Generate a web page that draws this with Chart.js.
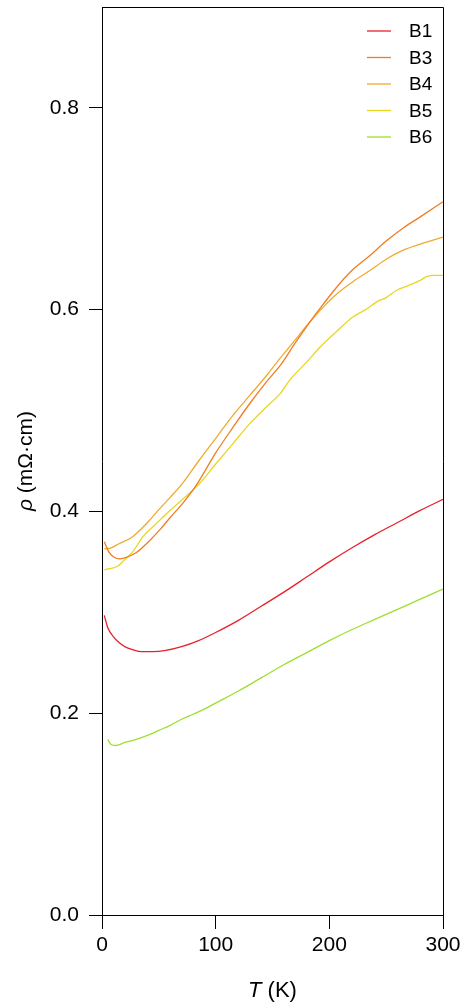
<!DOCTYPE html>
<html>
<head>
<meta charset="utf-8">
<script src="https://cdn.jsdelivr.net/npm/chart.js@4.4.1/dist/chart.umd.min.js"></script>
<style>
  html, body { margin: 0; padding: 0; background: #fff; }
  #wrap { width: 473px; height: 1006px; }
</style>
</head>
<body>
<div id="wrap"><canvas id="rhoChart" width="473" height="1006"></canvas></div>
<script>
// Series data: temperature (K) and resistivity (mOhm cm)
const seriesNames = ['B1', 'B3', 'B4', 'B5', 'B6'];
const seriesColors = ['#e8202a', '#f07d23', '#efaa2e', '#e9d71e', '#9ddf2f'];

const tB1 = [2, 5, 10, 15, 20, 27, 35, 45, 55, 70, 85, 100, 120, 140, 160, 180, 200, 220, 240, 260, 280, 300];
const rhoB1 = [0.297, 0.285, 0.276, 0.270, 0.266, 0.263, 0.261, 0.261, 0.262, 0.266, 0.272, 0.280, 0.292, 0.306, 0.320, 0.335, 0.350, 0.364, 0.377, 0.389, 0.401, 0.412];

const tB3 = [2, 6, 10, 15, 20, 30, 40, 51, 60, 71, 83, 100, 115, 130, 145, 157, 170, 183, 195, 207, 220, 236, 250, 265, 280, 300];
const rhoB3 = [0.370, 0.360, 0.355, 0.353, 0.354, 0.359, 0.369, 0.382, 0.394, 0.408, 0.426, 0.458, 0.483, 0.507, 0.529, 0.545, 0.567, 0.588, 0.606, 0.623, 0.639, 0.654, 0.668, 0.681, 0.692, 0.707];

const tB4 = [2, 8, 15, 27, 40, 51, 60, 71, 85, 101, 115, 130, 145, 154, 170, 183, 195, 207, 221, 236, 250, 265, 280, 300];
const rhoB4 = [0.363, 0.364, 0.368, 0.375, 0.389, 0.403, 0.414, 0.428, 0.450, 0.474, 0.495, 0.515, 0.535, 0.548, 0.570, 0.588, 0.603, 0.616, 0.628, 0.639, 0.650, 0.659, 0.665, 0.672];

const tB5 = [2, 5, 10, 14, 18, 27, 36, 45, 57, 70, 86, 100, 115, 130, 145, 157, 165, 180, 192, 205, 221, 232, 242, 250, 259, 270, 280, 286, 292, 300];
const rhoB5 = [0.342, 0.343, 0.344, 0.346, 0.350, 0.360, 0.375, 0.385, 0.398, 0.411, 0.428, 0.447, 0.467, 0.487, 0.504, 0.517, 0.530, 0.548, 0.563, 0.577, 0.593, 0.600, 0.608, 0.612, 0.619, 0.624, 0.629, 0.633, 0.634, 0.634];

const tB6 = [5, 8, 12, 20, 30, 40, 50, 60, 70, 80, 90, 100, 120, 140, 160, 180, 200, 220, 240, 260, 280, 300];
const rhoB6 = [0.174, 0.169, 0.168, 0.171, 0.174, 0.178, 0.183, 0.188, 0.194, 0.199, 0.204, 0.210, 0.222, 0.235, 0.248, 0.260, 0.272, 0.283, 0.293, 0.303, 0.313, 0.323];

const xTicks = [0, 100, 200, 300];
const yTicks = [0.0, 0.2, 0.4, 0.6, 0.8];

const seriesT = [tB1, tB3, tB4, tB5, tB6];
const seriesRho = [rhoB1, rhoB3, rhoB4, rhoB5, rhoB6];

const FONT = '"Liberation Sans", Arial, sans-serif';

const datasets = seriesNames.map((name, i) => ({
    label: name,
    data: seriesT[i].map((t, k) => ({ x: t, y: seriesRho[i][k] })),
    borderColor: seriesColors[i],
    backgroundColor: seriesColors[i],
    borderWidth: 1.3,
    pointRadius: 0,
    cubicInterpolationMode: 'monotone',
    fill: false
}));

// Frame, legend and axis titles (italic symbols) drawn by hand
const extras = {
    id: 'extras',
    afterDraw(chart) {
        const { ctx, chartArea: a } = chart;
        ctx.save();

        // top and right border of the frame
        ctx.strokeStyle = '#000';
        ctx.lineWidth = 1;
        ctx.beginPath();
        ctx.moveTo(a.left, a.top + 0.5);
        ctx.lineTo(a.right + 0.5, a.top + 0.5);
        ctx.lineTo(a.right + 0.5, a.bottom);
        ctx.stroke();

        // legend
        ctx.font = '19px ' + FONT;
        ctx.textBaseline = 'middle';
        ctx.textAlign = 'left';
        chart.data.datasets.forEach((ds, i) => {
            const y = 31 + i * 26.5;
            ctx.strokeStyle = ds.borderColor;
            ctx.lineWidth = 1.3;
            ctx.beginPath();
            ctx.moveTo(367, y);
            ctx.lineTo(391, y);
            ctx.stroke();
            ctx.fillStyle = '#000';
            ctx.fillText(ds.label, 409, y + 1);
        });

        // x title: T (K)
        const cx = (a.left + a.right) / 2;
        ctx.fillStyle = '#000';
        ctx.textBaseline = 'middle';
        ctx.font = 'italic 22px ' + FONT;
        const wT = ctx.measureText('T').width;
        ctx.font = '22px ' + FONT;
        const wK = ctx.measureText(' (K)').width;
        let x0 = cx - (wT + wK) / 2;
        ctx.font = 'italic 22px ' + FONT;
        ctx.fillText('T', x0, 991);
        ctx.font = '22px ' + FONT;
        ctx.fillText(' (K)', x0 + wT, 991);

        // y title: rho (mOhm.cm)
        const cy = (a.top + a.bottom) / 2;
        ctx.translate(26, cy);
        ctx.rotate(-Math.PI / 2);
        ctx.font = 'italic 21px ' + FONT;
        const wR = ctx.measureText('\u03C1').width;
        ctx.font = '21px ' + FONT;
        const wU = ctx.measureText(' (m\u03A9\u00B7cm)').width;
        x0 = -(wR + wU) / 2;
        ctx.font = 'italic 21px ' + FONT;
        ctx.fillText('\u03C1', x0, 0);
        ctx.font = '21px ' + FONT;
        ctx.fillText(' (m\u03A9\u00B7cm)', x0 + wR, 0);

        ctx.restore();
    }
};

new Chart(document.getElementById('rhoChart').getContext('2d'), {
    type: 'line',
    data: { datasets },
    options: {
        responsive: false,
        animation: false,
        layout: { padding: { left: 0, top: 7, right: 30, bottom: 0 } },
        plugins: {
            legend: { display: false },
            tooltip: { enabled: false }
        },
        scales: {
            x: {
                type: 'linear',
                min: 0,
                max: 300,
                afterFit: s => {
                    s.height = 91;
                    s.paddingLeft = 0;
                    s.paddingRight = 0;
                },
                afterBuildTicks: s => { s.ticks = xTicks.map(v => ({ value: v })); },
                grid: { drawOnChartArea: false, drawTicks: true, tickLength: 14, color: '#000', lineWidth: 1 },
                border: { display: true, color: '#000', width: 1 },
                ticks: {
                    color: '#000',
                    padding: 4,
                    maxRotation: 0,
                    font: { family: FONT, size: 21 },
                    callback: v => String(v)
                }
            },
            y: {
                type: 'linear',
                min: 0,
                max: 0.9,
                afterFit: s => {
                    s.width = 102;
                    s.paddingTop = 0;
                    s.paddingBottom = 0;
                },
                afterBuildTicks: s => { s.ticks = yTicks.map(v => ({ value: v })); },
                grid: { drawOnChartArea: false, drawTicks: true, tickLength: 13, color: '#000', lineWidth: 1 },
                border: { display: true, color: '#000', width: 1 },
                ticks: {
                    color: '#000',
                    padding: 10,
                    font: { family: FONT, size: 21 },
                    callback: v => Number(v).toFixed(1)
                }
            }
        }
    },
    plugins: [extras]
});
</script>
</body>
</html>
